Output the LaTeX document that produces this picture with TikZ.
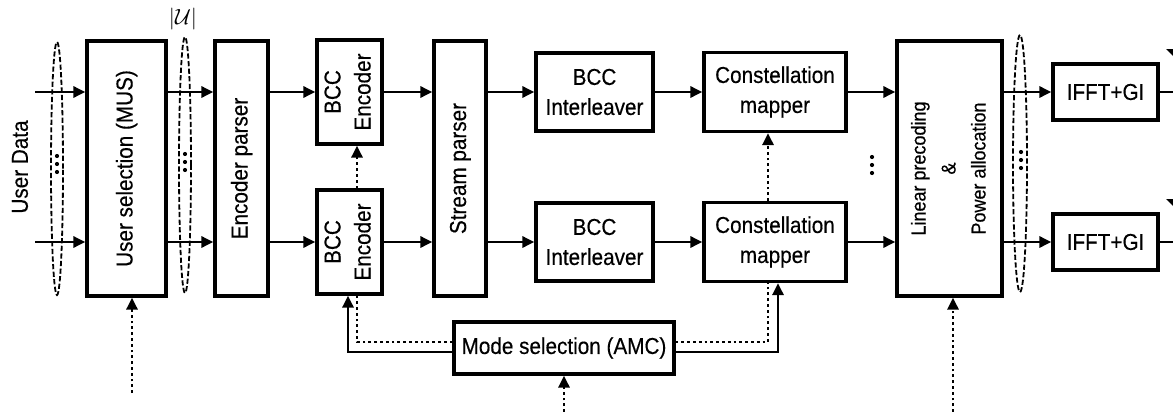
\documentclass[tikz,border=0pt]{standalone}
\usepackage{fontspec}
\setmainfont{Liberation Sans}[FakeStretch=0.9,FakeBold=0.4]
\usetikzlibrary{arrows.meta,positioning,calc}
\newcommand\vlab[1]{\rotatebox{90}{\begin{tabular}{@{}c@{}}#1\end{tabular}}}
\tikzset{
  txt/.style={font=\fontsize{11.5}{15}\selectfont},
  blk/.style={draw,line width=1.6pt,inner sep=1pt,align=center,txt},
  wire/.style={line width=1.4pt},
  sig/.style={wire,-{Triangle[length=6pt,width=5.5pt]}},
  ctl/.style={sig,dash pattern=on 1.4pt off 1.5pt},
  dots/.style={wire,dash pattern=on 1.4pt off 1.5pt},
  grp/.style={line width=0.9pt,dash pattern=on 2.6pt off 1.2pt},
  pt/.style={circle,fill,inner sep=0pt,minimum size=2.1pt},
}
\begin{document}
\begin{tikzpicture}[x=0.5pt,y=-0.5pt]
  \useasboundingbox (0,0) rectangle (1173,412);
  \clip (0,0) rectangle (1173,412);
  \node[blk,minimum width=39.5pt,minimum height=127.5pt] (mus) at (126.5,168.5) {\vlab{User selection (MUS)}};
  \node[blk,minimum width=26.5pt,minimum height=127.5pt] (encp) at (241.5,168.5) {\vlab{Encoder parser}};
  \node[blk,minimum width=26pt,minimum height=127.5pt] (strp) at (460,168.5) {\vlab{Stream parser}};
  \node[blk,minimum width=52.5pt,minimum height=127.5pt,font=\fontsize{10}{15}\selectfont] (prec) at (949.5,168.5)
    {\vlab{Linear precoding\\\&\\Power allocation}};
  \node[blk,minimum width=110pt,minimum height=26pt] (amc) at (564,348) {Mode selection (AMC)};
  \foreach \r/\y in {A/92,B/242}{
    \node[blk,minimum width=32.5pt,minimum height=52pt] (bcc\r) at (349.5,\y) {\vlab{BCC\\Encoder}};
    \node[blk,minimum width=58.5pt,minimum height=39pt] (int\r) at (594.5,\y) {BCC\\Interleaver};
    \node[blk,minimum width=71pt,minimum height=39.5pt] (map\r) at (775,\y) {Constellation\\mapper};
    \node[blk,minimum width=52.5pt,minimum height=28pt] (ifft\r) at (1105.5,\y) {IFFT+GI};
    \coordinate (ud\r) at (35,\y);
    \coordinate (ant\r) at (1186,\y);
  }
  \node[txt,rotate=90] (udata) at (20,167) {User Data};
  \node[font=\fontsize{11}{13}\selectfont] (nu) at (183,19) {$|\mathcal{U}|$};
  \foreach \r in {A,B}{
    \draw[sig] (ud\r) -- (mus.west |- ud\r);
    \draw[sig] (mus.east |- ud\r) -- (encp.west |- ud\r);
    \draw[sig] (encp.east |- ud\r) -- (bcc\r.west);
    \draw[sig] (bcc\r.east) -- (strp.west |- ud\r);
    \draw[sig] (strp.east |- ud\r) -- (int\r.west);
    \draw[sig] (int\r.east) -- (map\r.west);
    \draw[sig] (map\r.east) -- (prec.west |- ud\r);
    \draw[sig] (prec.east |- ud\r) -- (ifft\r.west);
    \draw[wire] (ifft\r.east) -- (ant\r) -- ++(0,-23);
    \fill (ant\r) ++(0,-23) -- ++(-20,-20) -- ++(40,0) -- cycle;
  }
  % groups of streams
  \draw[grp] (57,168.5) ellipse [x radius=3pt,y radius=63.25pt];
  \draw[grp] (185,165) ellipse [x radius=3pt,y radius=64pt];
  \draw[grp] (1020,163.5) ellipse [x radius=3.5pt,y radius=64.25pt];
  \foreach \x/\y in {57/164,185/162,1021/160,872/165}
    \foreach \k in {-1,0,1}
      \node[pt] at (\x,\y+8*\k) {};
  % control
  \draw[ctl] ([xshift=3.75pt]bccB.north) -- ([xshift=3.75pt]bccA.south);
  \draw[ctl] ([xshift=-3.5pt]mapB.north) -- ([xshift=-3.5pt]mapA.south);
  \draw[dots] ([yshift=3pt]amc.west) -| ([xshift=3.75pt]bccB.south);
  \draw[sig] ([yshift=-2pt]amc.west) -| ([xshift=-0.75pt]bccB.south);
  \draw[dots] ([yshift=3pt]amc.east) -| ([xshift=-3.5pt]mapB.south);
  \draw[sig] ([yshift=-2pt]amc.east) -| ([xshift=1.5pt]mapB.south);
  \coordinate (fbM) at (132,393);
  \coordinate (fbA) at (564,412);
  \coordinate (fbP) at (953,412);
  \draw[ctl] (fbM) -- (fbM |- mus.south);
  \draw[ctl] (fbA) -- (amc.south);
  \draw[ctl] (fbP) -- (fbP |- prec.south);
\end{tikzpicture}
\end{document}
